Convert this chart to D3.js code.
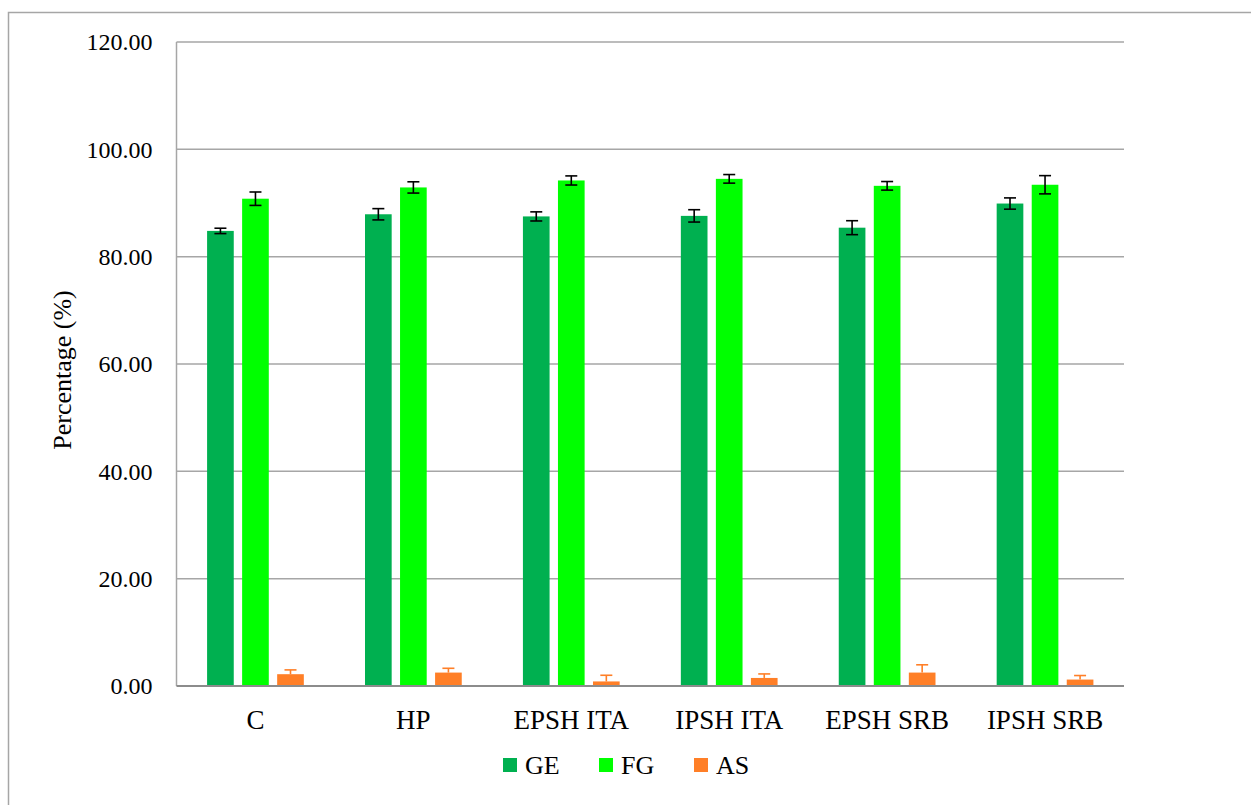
<!DOCTYPE html>
<html>
<head>
<meta charset="utf-8">
<script src="https://cdn.jsdelivr.net/npm/d3@7"></script>
<style>
  html, body { margin: 0; padding: 0; background: #fff; }
</style>
</head>
<body>
<div id="chart"></div>
<script>
// ---------------------------------------------------------------------------
// data
// ---------------------------------------------------------------------------
const categories = ["C", "HP", "EPSH ITA", "IPSH ITA", "EPSH SRB", "IPSH SRB"];
const seriesNames = ["GE", "FG", "AS"];

const geValues = [84.8, 87.9, 87.5, 87.6, 85.4, 89.9];
const geErrors = [0.5, 1.05, 0.85, 1.15, 1.3, 1.05];

const fgValues = [90.8, 92.9, 94.2, 94.5, 93.2, 93.4];
const fgErrors = [1.25, 1.05, 0.85, 0.8, 0.8, 1.7];

const asValues = [2.2, 2.5, 0.85, 1.5, 2.5, 1.2];
const asErrors = [0.8, 0.8, 1.15, 0.75, 1.45, 0.75];

const yTicks = [0, 20, 40, 60, 80, 100, 120];

const seriesColors = { GE: "#00b050", FG: "#00ff00", AS: "#ff7f27" };
const errorColors = { GE: "#000000", FG: "#000000", AS: "#ff7f27" };
// AS error bars only show the plus side in the original
const errorBoth = { GE: true, FG: true, AS: false };

const FONT = "'Liberation Serif', 'DejaVu Serif', serif";

// build rows for drawing
const seriesData = [
  { name: "GE", values: geValues, errors: geErrors },
  { name: "FG", values: fgValues, errors: fgErrors },
  { name: "AS", values: asValues, errors: asErrors }
];
const bars = [];
seriesData.forEach(s => {
  categories.forEach((c, i) => {
    bars.push({ series: s.name, category: c, value: s.values[i], err: s.errors[i] });
  });
});

// ---------------------------------------------------------------------------
// layout
// ---------------------------------------------------------------------------
const W = 1251, H = 805;
const plot = { left: 176.5, right: 1124, top: 42, bottom: 686 };

const svg = d3.select("#chart").append("svg")
  .attr("width", W)
  .attr("height", H)
  .style("font-family", FONT);

// outer chart-area border (runs off the right/bottom edge)
svg.append("rect")
  .attr("x", 8.5).attr("y", 12.5)
  .attr("width", 1400).attr("height", 1000)
  .attr("fill", "none")
  .attr("stroke", "#a6a6a6")
  .attr("stroke-width", 1.5);

const x = d3.scaleBand()
  .domain(categories)
  .range([plot.left, plot.right]);

const xInner = d3.scaleBand()
  .domain(seriesNames)
  .range([0, x.bandwidth()])
  .paddingInner(0.239)
  .paddingOuter(0.873);

const y = d3.scaleLinear()
  .domain([0, 120])
  .range([plot.bottom, plot.top]);

// gridlines
svg.append("g")
  .selectAll("line")
  .data(yTicks.filter(t => t > 0))
  .join("line")
  .attr("x1", plot.left)
  .attr("x2", plot.right)
  .attr("y1", d => y(d))
  .attr("y2", d => y(d))
  .attr("stroke", "#a6a6a6")
  .attr("stroke-width", 1.5);

// y axis line
svg.append("line")
  .attr("x1", plot.left).attr("x2", plot.left)
  .attr("y1", plot.top).attr("y2", plot.bottom)
  .attr("stroke", "#a6a6a6")
  .attr("stroke-width", 1.5);

// y tick labels
const yAxis = svg.append("g")
  .attr("transform", `translate(${plot.left},0)`)
  .call(d3.axisLeft(y).tickValues(yTicks).tickFormat(d3.format(".2f")).tickSize(0).tickPadding(24));
yAxis.select(".domain").remove();
yAxis.attr("font-family", null).attr("font-size", null);
yAxis.selectAll("text")
  .style("font-family", FONT)
  .style("font-size", "24px")
  .attr("fill", "#000");

// bars
svg.append("g")
  .selectAll("rect")
  .data(bars)
  .join("rect")
  .attr("x", d => x(d.category) + xInner(d.series))
  .attr("y", d => y(d.value))
  .attr("width", xInner.bandwidth())
  .attr("height", d => y(0) - y(d.value))
  .attr("fill", d => seriesColors[d.series]);

// error bars
const capW = 12;
const cx = d => x(d.category) + xInner(d.series) + xInner.bandwidth() / 2;
const eb = svg.append("g")
  .selectAll("g")
  .data(bars)
  .join("g")
  .attr("stroke", d => errorColors[d.series])
  .attr("stroke-width", 1.6);

eb.append("line")
  .attr("x1", cx)
  .attr("x2", cx)
  .attr("y1", d => y(errorBoth[d.series] ? d.value - d.err : d.value))
  .attr("y2", d => y(d.value + d.err));

eb.selectAll("line.cap")
  .data(d => (errorBoth[d.series] ? [d.value - d.err, d.value + d.err] : [d.value + d.err]).map(v => ({ d, v })))
  .join("line")
  .attr("class", "cap")
  .attr("x1", c => cx(c.d) - capW / 2)
  .attr("x2", c => cx(c.d) + capW / 2)
  .attr("y1", c => y(c.v))
  .attr("y2", c => y(c.v));

// baseline
svg.append("line")
  .attr("x1", plot.left).attr("x2", plot.right)
  .attr("y1", y(0)).attr("y2", y(0))
  .attr("stroke", "#8c8c8c")
  .attr("stroke-width", 1.8);

// x category labels
svg.append("g")
  .selectAll("text")
  .data(categories)
  .join("text")
  .attr("x", d => x(d) + x.bandwidth() / 2)
  .attr("y", 729)
  .attr("text-anchor", "middle")
  .style("font-size", "27px")
  .text(d => d);

// y axis title
svg.append("text")
  .attr("transform", `translate(71,${(plot.top + plot.bottom) / 2 + 6}) rotate(-90)`)
  .attr("text-anchor", "middle")
  .style("font-size", "26px")
  .text("Percentage (%)");

// legend
const legendX = [503, 599, 694];
const legend = svg.append("g")
  .selectAll("g")
  .data(seriesNames)
  .join("g")
  .attr("transform", (d, i) => `translate(${legendX[i]},758)`);

legend.append("rect")
  .attr("width", 14)
  .attr("height", 14)
  .attr("fill", d => seriesColors[d]);

legend.append("text")
  .attr("x", 22)
  .attr("y", 16)
  .style("font-size", "26px")
  .text(d => d);
</script>
</body>
</html>
